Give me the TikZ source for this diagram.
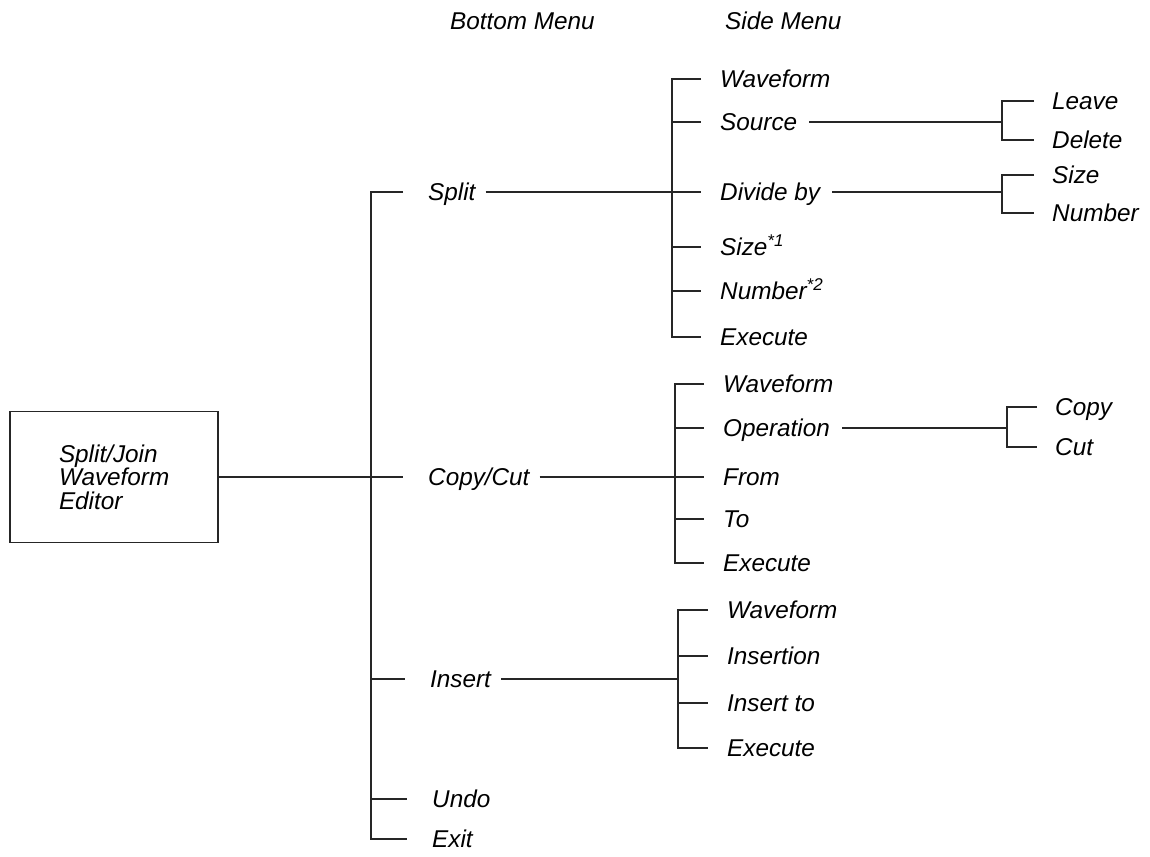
\documentclass[tikz,border=0pt]{standalone}
\usepackage{fontspec}
\setmainfont{Liberation Sans}
\begin{document}
\begin{tikzpicture}[x=1pt,y=-1pt]
\tikzset{
  lbl/.style={anchor=west, inner sep=0pt, text height=17pt, text depth=0pt, font=\fontsize{24.3}{28}\selectfont\itshape},
  ln/.style={line width=1.1pt, draw=black!85},
}
\useasboundingbox (0,0) rectangle (1150,856);
% titles
\node[lbl] (tb) at (450,21) {Bottom Menu};
\node[lbl] (ts) at (725,21) {Side Menu};
% root box
\node[ln, minimum width=208pt, minimum height=131pt, text width=110pt, align=left, inner sep=0pt,
      font=\fontsize{24.3}{23.5}\selectfont\itshape] (box) at (114,477) {Split/Join\\Waveform\\Editor};
% bottom menu
\coordinate (bmx) at (371,0);
\node[lbl] (split) at (428,192) {Split};
\node[lbl] (copycut) at (428,477) {Copy/Cut};
\node[lbl] (insert) at (430,679) {Insert};
\node[lbl] (undo) at (432,799) {Undo};
\node[lbl] (exit) at (432,839) {Exit};
\draw[ln] (box.east) -- (box.east -| bmx);
\draw[ln] ([xshift=-25pt]split.west) -- (split.west -| bmx) -- (exit.west -| bmx) -- ([xshift=-25pt]exit.west);
\foreach \n in {copycut,insert,undo} \draw[ln] (\n.west -| bmx) -- ([xshift=-25pt]\n.west);
% split side menu
\coordinate (sv) at (672,0);
\node[lbl] (sw) at (720,79) {Waveform};
\node[lbl] (ss) at (720,122) {Source};
\node[lbl] (sd) at (720,192) {Divide by};
\node[lbl] (sz) at (720,247) {Size\textsuperscript{*1}};
\node[lbl] (sn) at (720,291) {Number\textsuperscript{*2}};
\node[lbl] (se) at (720,337) {Execute};
\draw[ln] ([xshift=10pt]split.east) -- (split.east -| sv);
\draw[ln] ([xshift=-19pt]sw.west) -- (sw.west -| sv) -- (se.west -| sv) -- ([xshift=-19pt]se.west);
\foreach \n in {ss,sd,sz,sn} \draw[ln] (\n.west -| sv) -- ([xshift=-19pt]\n.west);
% copy/cut side menu
\coordinate (cv) at (675,0);
\node[lbl] (cw) at (723,384) {Waveform};
\node[lbl] (co) at (723,428) {Operation};
\node[lbl] (cf) at (723,477) {From};
\node[lbl] (ct) at (723,519) {To};
\node[lbl] (ce) at (723,563) {Execute};
\draw[ln] ([xshift=10pt]copycut.east) -- (copycut.east -| cv);
\draw[ln] ([xshift=-19pt]cw.west) -- (cw.west -| cv) -- (ce.west -| cv) -- ([xshift=-19pt]ce.west);
\foreach \n in {co,cf,ct} \draw[ln] (\n.west -| cv) -- ([xshift=-19pt]\n.west);
% insert side menu
\coordinate (iv) at (678,0);
\node[lbl] (iw) at (727,610) {Waveform};
\node[lbl] (ii) at (727,656) {Insertion};
\node[lbl] (it) at (727,703) {Insert to};
\node[lbl] (ie) at (727,748) {Execute};
\draw[ln] ([xshift=10pt]insert.east) -- (insert.east -| iv);
\draw[ln] ([xshift=-19pt]iw.west) -- (iw.west -| iv) -- (ie.west -| iv) -- ([xshift=-19pt]ie.west);
\foreach \n in {ii,it} \draw[ln] (\n.west -| iv) -- ([xshift=-19pt]\n.west);
% far sub menus
\coordinate (fv1) at (1002,0);
\coordinate (fv2) at (1007,0);
\node[lbl] (leave) at (1052,101) {Leave};
\node[lbl] (delete) at (1052,140) {Delete};
\node[lbl] (fsize) at (1052,175) {Size};
\node[lbl] (fnum) at (1052,213) {Number};
\node[lbl] (copy) at (1055,407) {Copy};
\node[lbl] (cut) at (1055,447) {Cut};
\draw[ln] ([xshift=12pt]ss.east) -- (ss.east -| fv1);
\draw[ln] ([xshift=-18pt]leave.west) -- (leave.west -| fv1) -- (delete.west -| fv1) -- ([xshift=-18pt]delete.west);
\draw[ln] ([xshift=12pt]sd.east) -- (sd.east -| fv1);
\draw[ln] ([xshift=-18pt]fsize.west) -- (fsize.west -| fv1) -- (fnum.west -| fv1) -- ([xshift=-18pt]fnum.west);
\draw[ln] ([xshift=12pt]co.east) -- (co.east -| fv2);
\draw[ln] ([xshift=-18pt]copy.west) -- (copy.west -| fv2) -- (cut.west -| fv2) -- ([xshift=-18pt]cut.west);
\end{tikzpicture}
\end{document}
